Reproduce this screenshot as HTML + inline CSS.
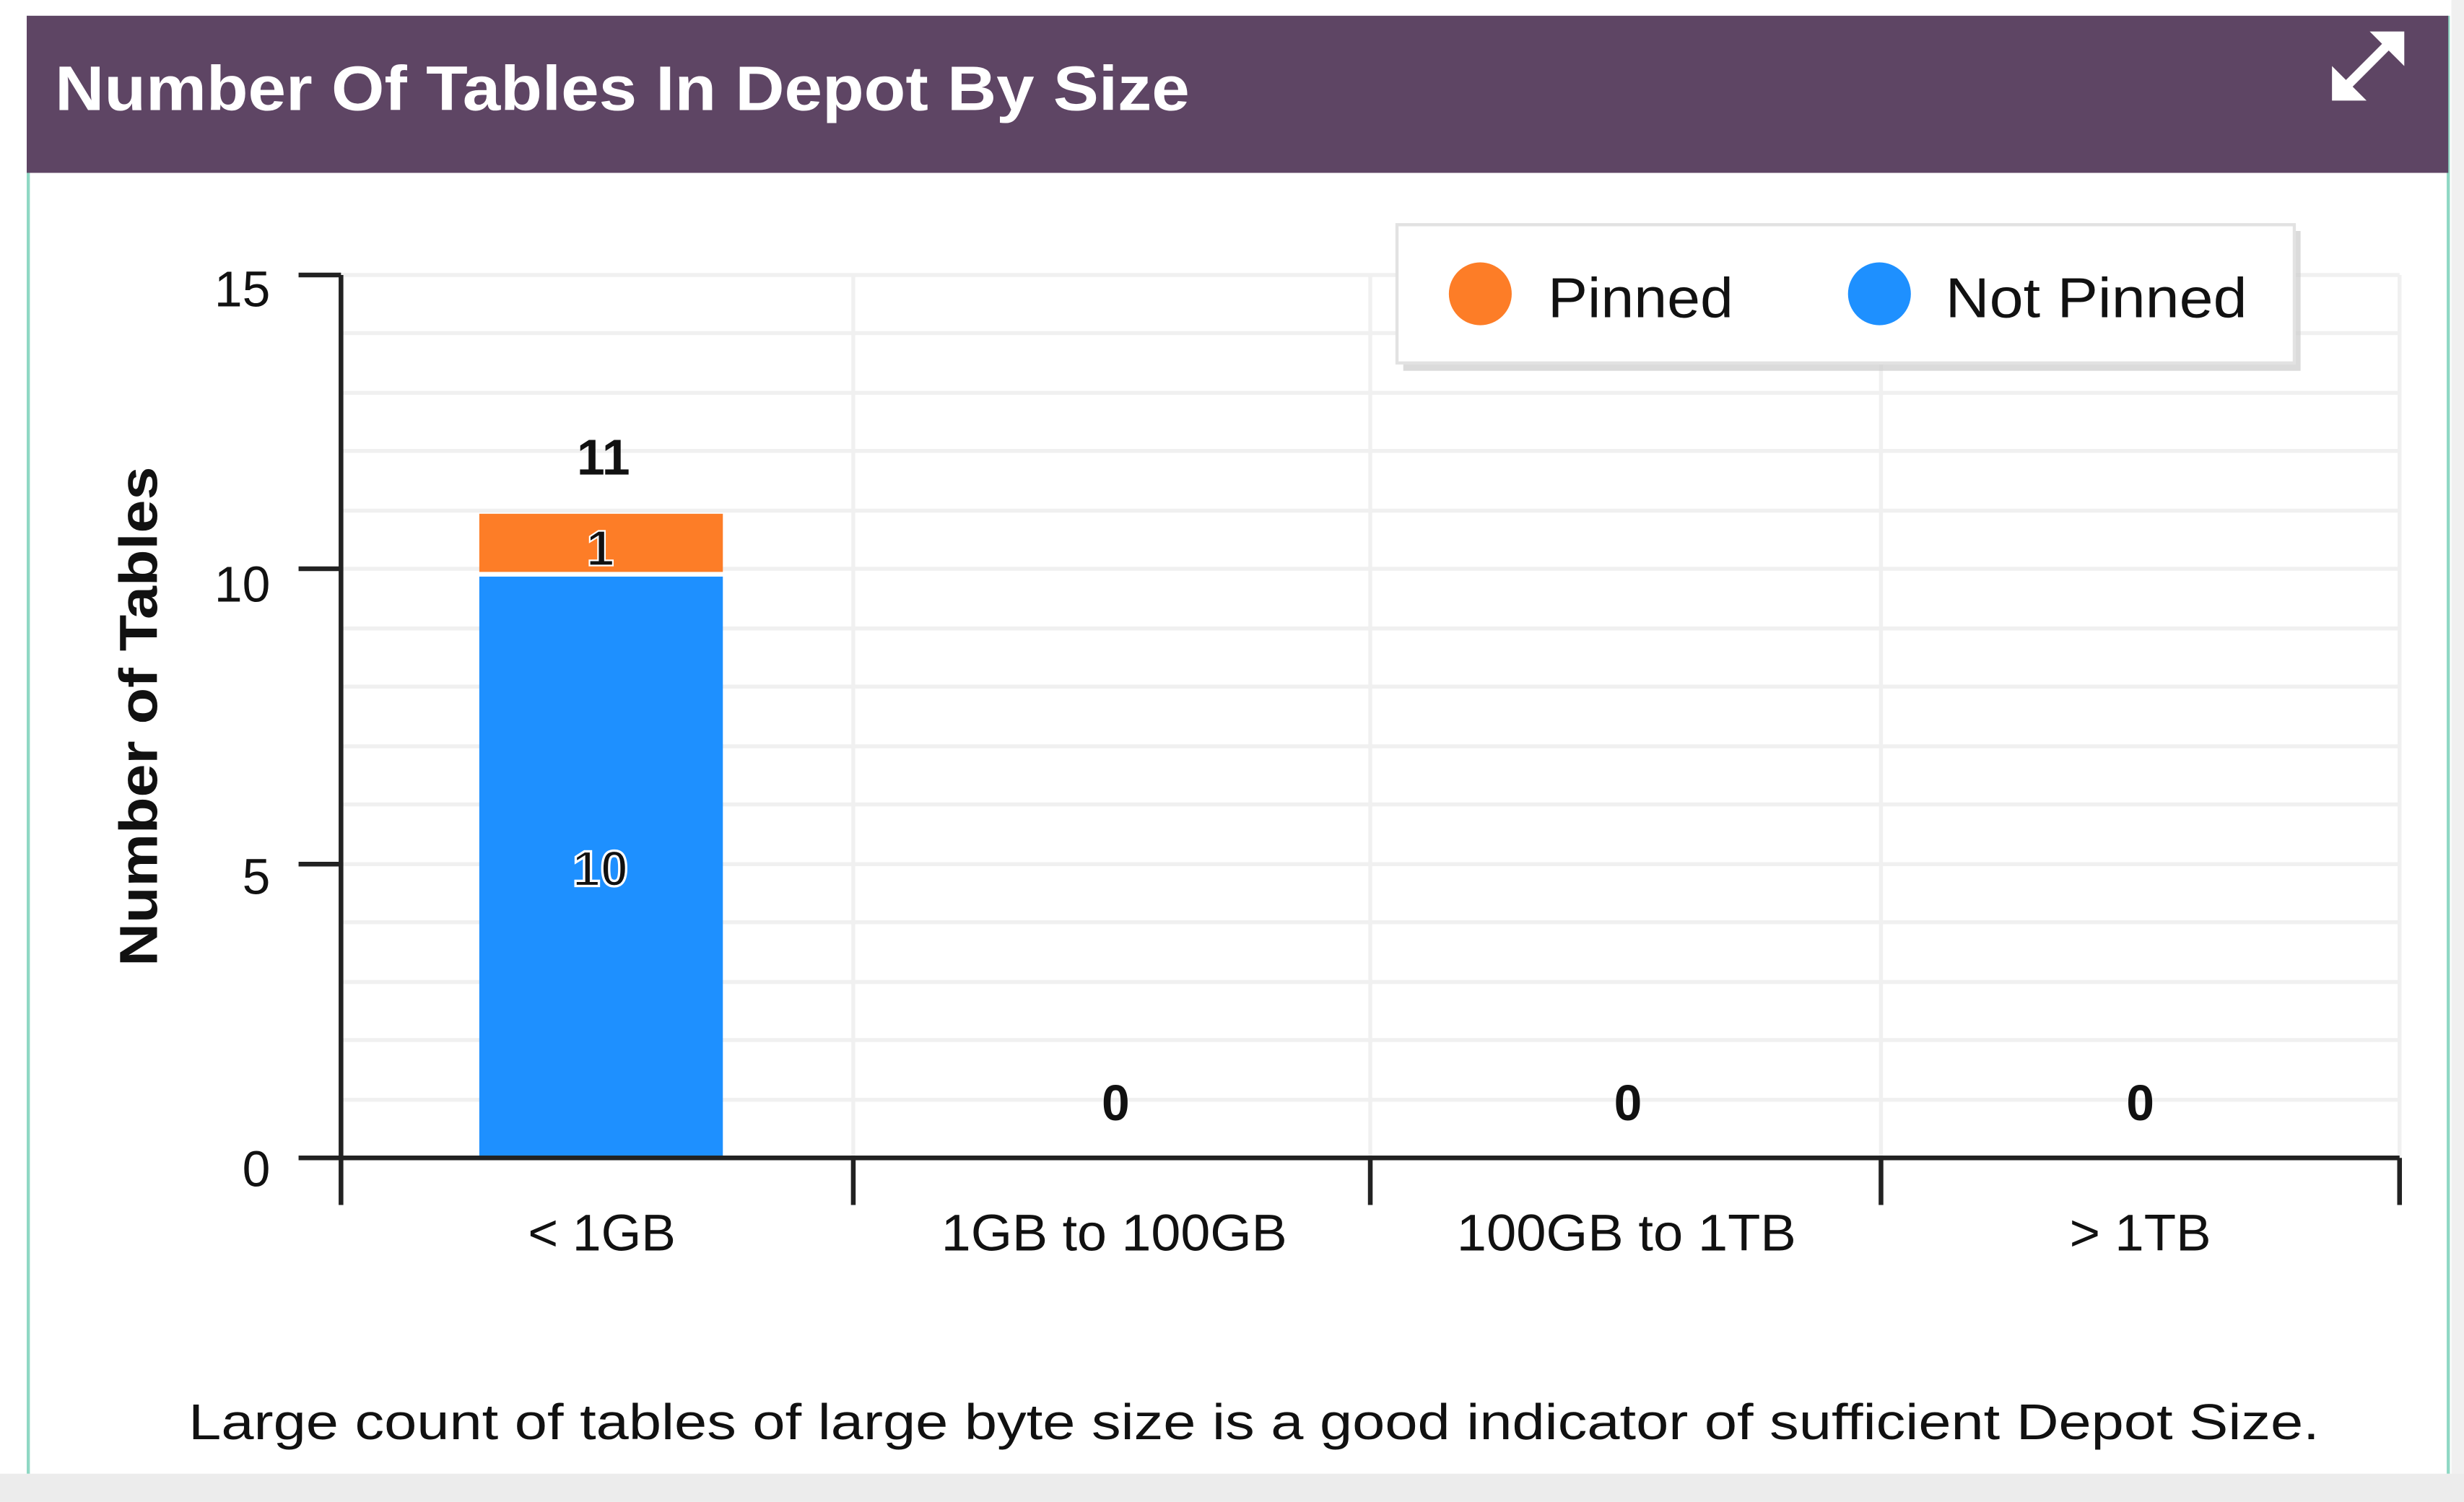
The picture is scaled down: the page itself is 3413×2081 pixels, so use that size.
<!DOCTYPE html>
<html><head><meta charset="utf-8"><style>
html,body{margin:0;padding:0;background:#fff;}
svg{display:block;}
text{font-family:"Liberation Sans","DejaVu Sans",sans-serif;}
</style></head><body>
<svg width="3413" height="2081" viewBox="0 0 1568 956" xmlns="http://www.w3.org/2000/svg">
<rect x="0" y="0" width="1568" height="956" fill="#fff"/>
<rect x="1560" y="0" width="8" height="956" fill="#f0f0f0"/>
<rect x="0" y="938" width="1568" height="18" fill="#ececec"/>
<line x1="18" y1="10" x2="18" y2="938" stroke="#8fd8c4" stroke-width="2"/>
<line x1="1558" y1="10" x2="1558" y2="938" stroke="#8fd8c4" stroke-width="2"/>
<rect x="17" y="10" width="1541" height="100" fill="#5e4564"/>
<text x="35" y="70" font-size="40" font-weight="bold" fill="#fff" textLength="722" lengthAdjust="spacingAndGlyphs">Number Of Tables In Depot By Size</text>
<g stroke="#fff" stroke-width="6" fill="#fff">
<line x1="1492" y1="56" x2="1522" y2="26"/>
<polygon points="1530,20 1530,42 1508,20" stroke="none"/>
<polygon points="1484,64 1484,42 1506,64" stroke="none"/>
</g>
<g stroke="#f0f0f0" stroke-width="2.5">
<line x1="217" y1="175" x2="1527" y2="175"/>
<line x1="217" y1="212" x2="1527" y2="212"/>
<line x1="217" y1="250" x2="1527" y2="250"/>
<line x1="217" y1="287" x2="1527" y2="287"/>
<line x1="217" y1="325" x2="1527" y2="325"/>
<line x1="217" y1="362" x2="1527" y2="362"/>
<line x1="217" y1="400" x2="1527" y2="400"/>
<line x1="217" y1="437" x2="1527" y2="437"/>
<line x1="217" y1="475" x2="1527" y2="475"/>
<line x1="217" y1="512" x2="1527" y2="512"/>
<line x1="217" y1="550" x2="1527" y2="550"/>
<line x1="217" y1="587" x2="1527" y2="587"/>
<line x1="217" y1="625" x2="1527" y2="625"/>
<line x1="217" y1="662" x2="1527" y2="662"/>
<line x1="217" y1="700" x2="1527" y2="700"/>
<line x1="543" y1="175" x2="543" y2="737"/>
<line x1="872" y1="175" x2="872" y2="737"/>
<line x1="1197" y1="175" x2="1197" y2="737"/>
<line x1="1527" y1="175" x2="1527" y2="737"/>
</g>
<rect x="305" y="327" width="155" height="37" fill="#fd7d27"/>
<rect x="305" y="367" width="155" height="370" fill="#1e90ff"/>
<g stroke="#222" stroke-width="3" fill="none">
<line x1="217" y1="175" x2="217" y2="767"/>
<line x1="190" y1="175" x2="217" y2="175"/>
<line x1="190" y1="362" x2="217" y2="362"/>
<line x1="190" y1="550" x2="217" y2="550"/>
<line x1="190" y1="737" x2="217" y2="737"/>
<line x1="217" y1="737" x2="1527" y2="737"/>
<line x1="543" y1="737" x2="543" y2="767"/>
<line x1="872" y1="737" x2="872" y2="767"/>
<line x1="1197" y1="737" x2="1197" y2="767"/>
<line x1="1527" y1="737" x2="1527" y2="767"/>
</g>
<g font-size="32" fill="#111" text-anchor="end">
<text x="172" y="195">15</text>
<text x="172" y="383">10</text>
<text x="172" y="569">5</text>
<text x="172" y="755">0</text>
</g>
<text transform="translate(100,456) rotate(-90)" font-size="34" font-weight="bold" fill="#111" text-anchor="middle" textLength="318" lengthAdjust="spacingAndGlyphs">Number of Tables</text>
<g font-size="33" fill="#111" text-anchor="middle">
<text x="383" y="796" textLength="94" lengthAdjust="spacingAndGlyphs">&lt; 1GB</text>
<text x="709" y="796" textLength="220" lengthAdjust="spacingAndGlyphs">1GB to 100GB</text>
<text x="1035" y="796" textLength="216" lengthAdjust="spacingAndGlyphs">100GB to 1TB</text>
<text x="1362" y="796" textLength="90" lengthAdjust="spacingAndGlyphs">&gt; 1TB</text>
</g>
<g font-size="32" font-weight="bold" text-anchor="middle">
<text x="384" y="302" fill="#111">11</text>
<text x="382" y="360" fill="#111" stroke="#fff" stroke-width="1">1</text>
<text x="382" y="564" fill="#111" stroke="#fff" stroke-width="1.5">10</text>
<text x="710" y="713" fill="#111">0</text>
<text x="1036" y="713" fill="#111">0</text>
<text x="1362" y="713" fill="#111">0</text>
</g>
<rect x="893" y="147" width="571" height="89" fill="#ccc" opacity="0.7"/>
<rect x="889" y="143" width="571" height="88" fill="#fff" stroke="#e2e2e2" stroke-width="2"/>
<circle cx="942" cy="187" r="20" fill="#fd7d27"/>
<text x="985" y="202" font-size="36" fill="#111" textLength="118" lengthAdjust="spacingAndGlyphs">Pinned</text>
<circle cx="1196" cy="187" r="20" fill="#1e90ff"/>
<text x="1238" y="202" font-size="36" fill="#111" textLength="192" lengthAdjust="spacingAndGlyphs">Not Pinned</text>
<text x="120" y="916" font-size="32" fill="#111" textLength="1356" lengthAdjust="spacingAndGlyphs">Large count of tables of large byte size is a good indicator of sufficient Depot Size.</text>
</svg>
</body></html>
